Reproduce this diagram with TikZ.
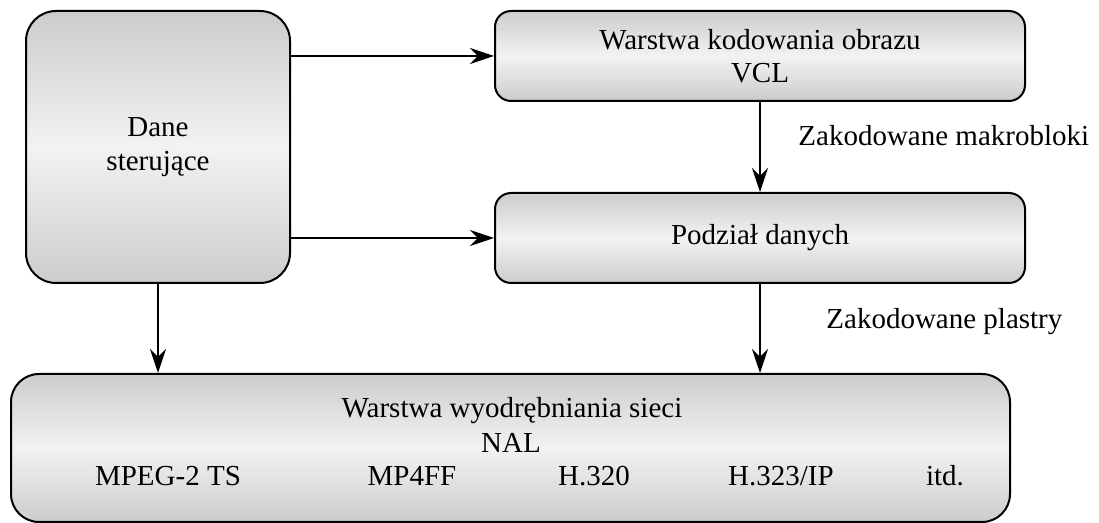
\documentclass[tikz,border=0pt]{standalone}
\usepackage{fontspec}
\setmainfont{Liberation Serif}
\usetikzlibrary{arrows.meta}
\definecolor{boxedge}{gray}{0.80}
\definecolor{boxmid}{gray}{0.95}
\tikzset{
  block/.style={draw, line width=1pt, top color=boxedge, bottom color=boxedge, middle color=boxmid, inner sep=0pt, align=center},
  flow/.style={line width=1pt, -{Stealth[length=12pt, width=8pt, inset=4pt]}},
  txt/.style={inner sep=0pt, anchor=base}
}
\begin{document}
\begin{tikzpicture}[x=0.5pt, y=-0.5pt, font=\fontsize{14.5}{16.75}\selectfont]
  \useasboundingbox (0,0) rectangle (1099,523);
  \node[block, rounded corners=15pt, minimum width=132pt, minimum height=136pt] (dane) at (158,147) {Dane\\sterujące};
  \node[block, rounded corners=8pt, minimum width=265pt, minimum height=45pt] (vcl) at (760,56) {Warstwa kodowania obrazu\\VCL};
  \node[block, rounded corners=8pt, minimum width=265pt, minimum height=45pt] (podzial) at (760,238) {Podział danych};
  \node[block, rounded corners=14pt, minimum width=499.5pt, minimum height=74pt] (nal) at (510.5,448) {};
  \node[txt] (nalname) at (512,418) {Warstwa wyodrębniania sieci};
  \node[txt] (nalabbr) at (511,453) {NAL};
  \node[txt] (mpeg) at (168,486) {MPEG-2 TS};
  \node[txt] (mp4ff) at (412,486) {MP4FF};
  \node[txt] (h320) at (594,486) {H.320};
  \node[txt] (h323) at (781,486) {H.323/IP};
  \node[txt] (itd) at (945,486) {itd.};
  \node[txt, anchor=base west] (makro) at (798,146) {Zakodowane makrobloki};
  \node[txt, anchor=base west] (plastry) at (826,329) {Zakodowane plastry};
  \draw[flow] (dane.east |- vcl.west) -- (vcl.west);
  \draw[flow] (dane.east |- podzial.west) -- (podzial.west);
  \draw[flow] (vcl) -- (podzial);
  \draw[flow] (dane.south) -- (dane.south |- nal.north);
  \draw[flow] (podzial.south) -- (podzial.south |- nal.north);
\end{tikzpicture}
\end{document}
